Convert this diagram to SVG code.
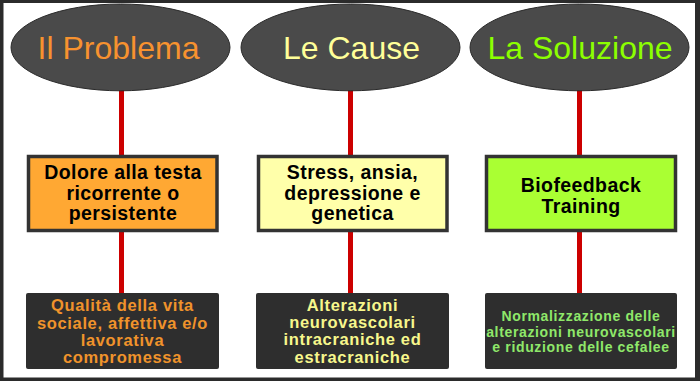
<svg xmlns="http://www.w3.org/2000/svg" width="700" height="381" viewBox="0 0 700 381">
<style>
.title{font-family:"Liberation Sans",Arial,sans-serif;font-size:32px;text-anchor:middle}
.mid{font-family:"Liberation Sans",Arial,sans-serif;font-size:19.5px;font-weight:bold;text-anchor:middle;fill:#000;letter-spacing:0.4px}
.low{font-family:"Liberation Sans",Arial,sans-serif;font-size:16.5px;font-weight:bold;text-anchor:middle;letter-spacing:0.65px}
.low3{font-family:"Liberation Sans",Arial,sans-serif;font-size:14px;font-weight:bold;text-anchor:middle;letter-spacing:0.65px;fill:#8FE86A}
.ell{fill:#4a4a4a;stroke:#2a2a2a;stroke-width:1}
.box{stroke:#333;stroke-width:3.5}
.dark{fill:#2e2e2e}
.conn{stroke:#CC0000;stroke-width:5;fill:none}
</style>
<rect x="0" y="0" width="700" height="381" fill="#2b2b2b"/>
<rect x="3.5" y="3" width="691.5" height="374.5" fill="#ffffff"/>
<g id="connectors">
<line class="conn" x1="121.5" y1="90" x2="121.5" y2="156"/>
<line class="conn" x1="121.5" y1="231" x2="121.5" y2="294"/>
<line class="conn" x1="350.5" y1="90" x2="350.5" y2="156"/>
<line class="conn" x1="350.5" y1="231" x2="350.5" y2="294"/>
<line class="conn" x1="579.5" y1="90" x2="579.5" y2="156"/>
<line class="conn" x1="579.5" y1="231" x2="579.5" y2="294"/>
</g>
<g id="title-problema">
<ellipse class="ell" cx="120.5" cy="47.4" rx="109.5" ry="43.4"/>
<text class="title" x="118.5" y="59.3" fill="#F7922F">Il Problema</text>
</g>
<g id="title-cause">
<ellipse class="ell" cx="350.5" cy="47.4" rx="109.5" ry="43.4"/>
<text class="title" x="351.5" y="59.3" fill="#FFFF99">Le Cause</text>
</g>
<g id="title-soluzione">
<ellipse class="ell" cx="579.5" cy="47.4" rx="109.5" ry="43.4"/>
<text class="title" x="580" y="59.3" fill="#8CFF00">La Soluzione</text>
</g>
<g id="box-problema">
<rect class="box" x="28.5" y="156.5" width="188.5" height="74" fill="#FFA833"/>
<text class="mid" x="123" y="179.4">Dolore alla testa</text>
<text class="mid" x="123" y="199.8">ricorrente o</text>
<text class="mid" x="123" y="220.2">persistente</text>
</g>
<g id="box-cause">
<rect class="box" x="258.5" y="156.5" width="188.5" height="74" fill="#FFFFAA"/>
<text class="mid" x="352.5" y="179.4">Stress, ansia,</text>
<text class="mid" x="352.5" y="199.8">depressione e</text>
<text class="mid" x="352.5" y="220.2">genetica</text>
</g>
<g id="box-soluzione">
<rect class="box" x="486.5" y="156.5" width="189" height="74" fill="#AAFF33"/>
<text class="mid" x="581" y="191.7">Biofeedback</text>
<text class="mid" x="581" y="212.7">Training</text>
</g>
<g id="out-problema">
<rect class="dark" x="26" y="293" width="193" height="76" rx="2"/>
<text class="low" x="122.5" y="311.3" fill="#F0932B">Qualità della vita</text>
<text class="low" x="122.5" y="328.6" fill="#F0932B">sociale, affettiva e/o</text>
<text class="low" x="122.5" y="345.9" fill="#F0932B">lavorativa</text>
<text class="low" x="122.5" y="363.2" fill="#F0932B">compromessa</text>
</g>
<g id="out-cause">
<rect class="dark" x="256" y="293" width="193" height="76" rx="2"/>
<text class="low" x="352.5" y="310.7" fill="#F7F78C">Alterazioni</text>
<text class="low" x="352.5" y="328" fill="#F7F78C">neurovascolari</text>
<text class="low" x="352.5" y="345.3" fill="#F7F78C">intracraniche ed</text>
<text class="low" x="352.5" y="362.6" fill="#F7F78C">estracraniche</text>
</g>
<g id="out-soluzione">
<rect class="dark" x="485" y="293" width="192" height="76" rx="2"/>
<text class="low3" x="581" y="320.7">Normalizzazione delle</text>
<text class="low3" x="581" y="336.5">alterazioni neurovascolari</text>
<text class="low3" x="581" y="352.3">e riduzione delle cefalee</text>
</g>
</svg>
